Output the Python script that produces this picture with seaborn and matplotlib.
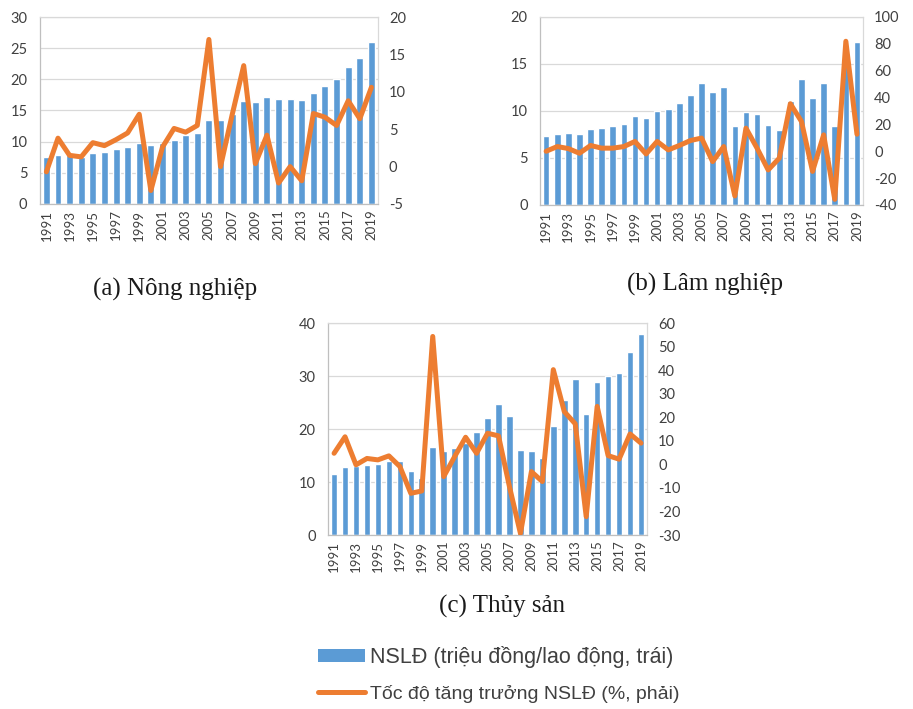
import numpy as np
import pandas as pd
import matplotlib.pyplot as plt
import seaborn as sns
from matplotlib.patches import Patch
from matplotlib.lines import Line2D

years = list(range(1991, 2020))

# NSLĐ (triệu đồng/lao động) - left axis
nong_nghiep = [7.5, 7.8, 7.9, 7.6, 8.2, 8.4, 8.9, 9.1, 9.8, 9.5,
               9.8, 10.3, 11.0, 11.4, 13.5, 13.5, 14.4, 16.5, 16.4, 17.2,
               16.9, 16.9, 16.7, 17.8, 19.0, 20.1, 22.0, 23.4, 26.0]
lam_nghiep = [7.3, 7.6, 7.7, 7.6, 8.1, 8.2, 8.35, 8.6, 9.45, 9.3,
              10.0, 10.2, 10.8, 11.7, 13.0, 12.0, 12.5, 8.35, 9.9, 9.7,
              8.5, 8.0, 11.1, 13.4, 11.4, 13.0, 8.35, 15.0, 17.3]
thuy_san = [11.5, 12.85, 13.0, 13.2, 13.4, 13.9, 13.9, 12.0, 10.8, 16.7,
            15.9, 16.4, 17.3, 19.4, 22.1, 24.8, 22.4, 16.1, 15.9, 14.5,
            20.5, 25.4, 29.5, 22.9, 28.9, 30.0, 30.55, 34.6, 38.0]

# Tốc độ tăng trưởng NSLĐ (%) - right axis
g_nong_nghiep = [-0.7, 3.8, 1.5, 1.3, 3.2, 2.8, 3.6, 4.5, 7.0, -3.2,
                 2.6, 5.1, 4.6, 5.5, 17.0, 0.0, 6.9, 13.5, 0.4, 4.2,
                 -2.2, 0.0, -1.9, 7.1, 6.6, 5.5, 8.8, 6.4, 10.6]
g_lam_nghiep = [0.0, 3.5, 2.0, -1.5, 4.3, 2.3, 2.3, 3.5, 7.3, -2.0,
                7.3, 1.0, 4.3, 8.0, 9.8, -7.7, 3.5, -33.3, 17.2, 2.3,
                -13.9, -5.2, 35.4, 22.2, -15.0, 12.2, -35.8, 81.9, 12.7]
g_thuy_san = [4.7, 11.7, -0.2, 2.5, 1.9, 3.6, -0.9, -12.3, -11.3, 54.3,
              -5.2, 3.3, 11.5, 4.7, 13.2, 12.1, -9.5, -29.3, -3.1, -7.3,
              40.2, 22.4, 17.2, -22.2, 24.6, 3.7, 2.2, 12.9, 9.0]

captions = ["(a) Nông nghiệp", "(b) Lâm nghiệp", "(c) Thủy sản"]
left_ticks = [np.arange(0, 31, 5), np.arange(0, 21, 5), np.arange(0, 41, 10)]
right_ticks = [np.arange(-5, 21, 5), np.arange(-40, 101, 20), np.arange(-30, 61, 10)]

BAR = "#5B9BD5"
LINE = "#ED7D31"
GRID = "#D9D9D9"
TXT = "#404040"

sns.set_theme(style="white")
plt.rcParams['font.family'] = ['Lato', 'DejaVu Sans']
plt.rcParams['axes.unicode_minus'] = False

fig = plt.figure(figsize=(9.13, 7.09), dpi=100)
boxes = [[0.0438, 0.7123, 0.370, 0.2637],
         [0.5915, 0.7109, 0.3538, 0.2652],
         [0.3593, 0.2454, 0.3494, 0.2990]]
cap_pos = [(175, 289), (705, 284), (502, 606)]

bars = [nong_nghiep, lam_nghiep, thuy_san]
growth = [g_nong_nghiep, g_lam_nghiep, g_thuy_san]

for i in range(3):
    ax = fig.add_axes(boxes[i])
    df = pd.DataFrame({'year': [str(y) for y in years], 'nsld': bars[i], 'g': growth[i]})
    sns.barplot(data=df, x='year', y='nsld', color=BAR, saturation=1, width=0.6, ax=ax)
    ax.set_xlim(-0.55, len(years) - 0.45)
    ax.set_ylim(left_ticks[i][0], left_ticks[i][-1])
    ax.set_yticks(left_ticks[i])
    ax.set_xticks(range(0, len(years), 2))
    ax.set_xticklabels([str(y) for y in years[::2]], rotation=90)
    ax.set_xlabel('')
    ax.set_ylabel('')
    ax.grid(axis='y', color=GRID, lw=0.9)
    ax.set_axisbelow(True)
    for s in ax.spines.values():
        s.set_color(GRID)
        s.set_linewidth(0.9)
    ax.spines['left'].set_color('#BFBFBF')
    ax.spines['bottom'].set_color('#BFBFBF')
    ax.tick_params(axis='y', length=0, pad=9, labelsize=10.5, labelcolor=TXT)
    ax.tick_params(axis='x', length=0, pad=4, labelsize=9.5, labelcolor=TXT)

    ax2 = ax.twinx()
    sns.lineplot(x=np.arange(len(years)), y=growth[i], ax=ax2, color=LINE, lw=3.6,
                 solid_joinstyle='round')
    ax2.set_ylim(right_ticks[i][0], right_ticks[i][-1])
    ax2.set_yticks(right_ticks[i])
    ax2.tick_params(axis='y', length=0, pad=8, labelsize=10.5, labelcolor=TXT)
    for s in ax2.spines.values():
        s.set_visible(False)

    fig.text(cap_pos[i][0] / 913, 1 - cap_pos[i][1] / 709, captions[i],
             family='Liberation Serif', fontsize=18, color='#1a1a1a',
             ha='center', va='center')

# legend
handles = [Patch(facecolor=BAR, edgecolor='none'),
           Line2D([0], [0], color=LINE, lw=3.6)]
labels = ["NSLĐ (triệu đồng/lao động, trái)", "Tốc độ tăng trưởng NSLĐ (%, phải)"]
leg = fig.legend(handles, labels, loc='upper left', bbox_to_anchor=(318 / 913, 1 - 646 / 709),
                 frameon=False, prop={'family': 'Liberation Sans', 'size': 15.5},
                 handlelength=2.2, handleheight=0.55, handletextpad=0.2,
                 labelspacing=0.8, borderpad=0, borderaxespad=0)
for t in leg.get_texts():
    t.set_color('#404040')
leg.get_texts()[1].set_fontsize(14)

fig.savefig('out.png', dpi=100)
